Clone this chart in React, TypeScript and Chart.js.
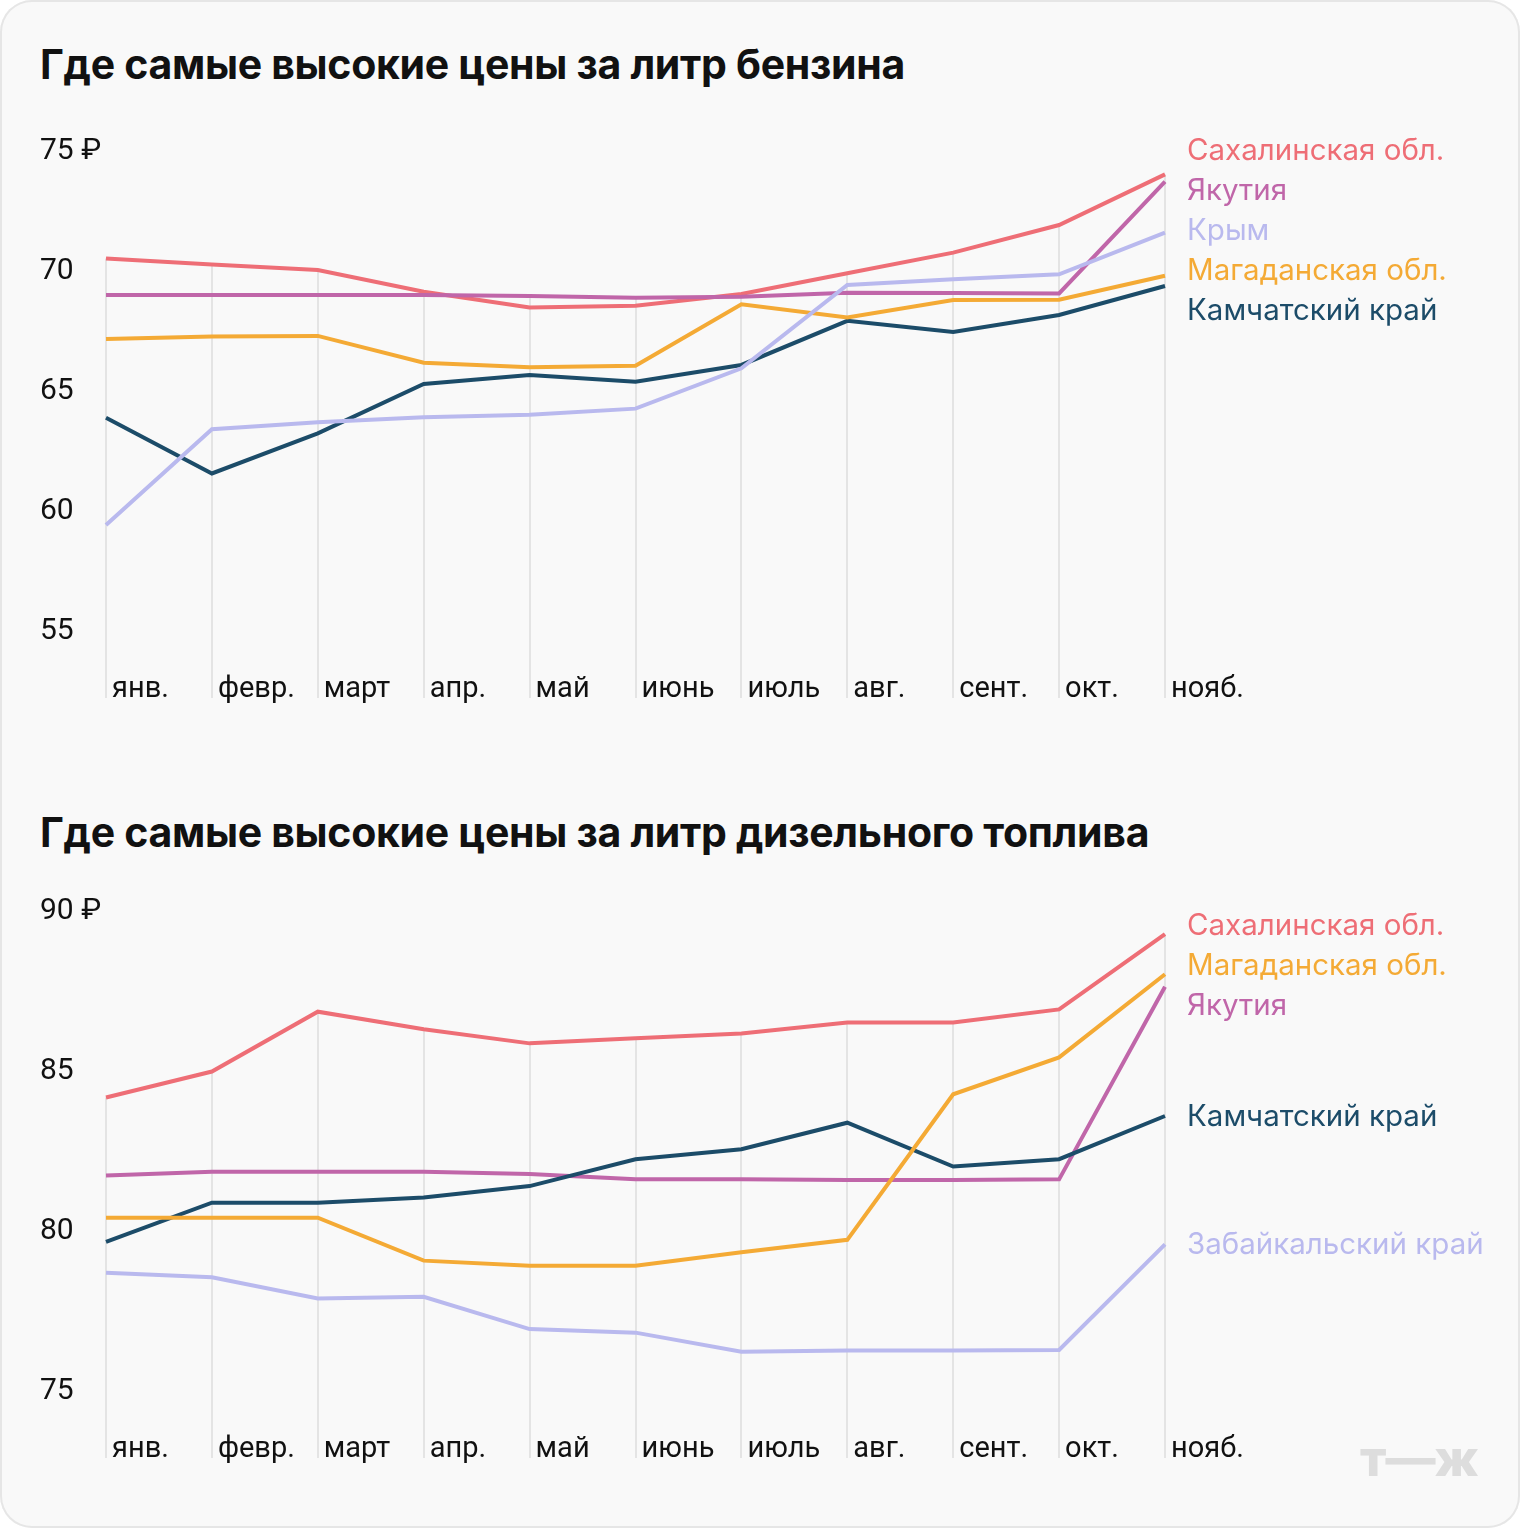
import React, { useEffect, useRef } from "react";
import { Chart, registerables } from "chart.js";

Chart.register(...registerables);

// ---------- data ----------
const months = ["янв.", "февр.", "март", "апр.", "май", "июнь", "июль", "авг.", "сент.", "окт.", "нояб."];

const petrolTitle = "Где самые высокие цены за литр бензина";
const dieselTitle = "Где самые высокие цены за литр дизельного топлива";

const petrolTicks = [55, 60, 65, 70, 75];
const dieselTicks = [75, 80, 85, 90];

const petrolSakhalin = [70.4, 70.15, 69.92, 69.01, 68.35, 68.43, 68.92, 69.78, 70.64, 71.79, 73.9];
const petrolYakutia = [68.87, 68.87, 68.87, 68.87, 68.83, 68.76, 68.8, 68.97, 68.96, 68.94, 73.6];
const petrolCrimea = [59.29, 63.28, 63.57, 63.78, 63.89, 64.14, 65.82, 69.29, 69.53, 69.74, 71.47];
const petrolMagadan = [67.04, 67.15, 67.17, 66.05, 65.86, 65.93, 68.49, 67.94, 68.67, 68.68, 69.68];
const petrolKamchatka = [63.76, 61.44, 63.11, 65.17, 65.54, 65.26, 65.96, 67.8, 67.33, 68.04, 69.25];

const dieselSakhalin = [84.08, 84.89, 86.76, 86.21, 85.77, 85.93, 86.08, 86.42, 86.42, 86.83, 89.18];
const dieselMagadan = [80.32, 80.32, 80.32, 78.98, 78.82, 78.82, 79.24, 79.63, 84.18, 85.33, 87.93];
const dieselYakutia = [81.64, 81.76, 81.76, 81.76, 81.69, 81.52, 81.52, 81.5, 81.5, 81.52, 87.54];
const dieselKamchatka = [79.57, 80.79, 80.79, 80.95, 81.31, 82.15, 82.46, 83.29, 81.92, 82.15, 83.5];
const dieselZabaikalsky = [78.6, 78.46, 77.8, 77.85, 76.84, 76.73, 76.13, 76.17, 76.17, 76.19, 79.49];

// ---------- styles ----------
const C_RED = "#ee6e76";
const C_PURPLE = "#c066a9";
const C_LAV = "#b9b9ee";
const C_ORANGE = "#f4aa35";
const C_DARK = "#1c4c69";

const petrolSeries = [
  { label: "Крым", data: petrolCrimea, color: C_LAV },
  { label: "Магаданская обл.", data: petrolMagadan, color: C_ORANGE },
  { label: "Камчатский край", data: petrolKamchatka, color: C_DARK },
  { label: "Якутия", data: petrolYakutia, color: C_PURPLE },
  { label: "Сахалинская обл.", data: petrolSakhalin, color: C_RED },
];

const dieselSeries = [
  { label: "Забайкальский край", data: dieselZabaikalsky, color: C_LAV },
  { label: "Магаданская обл.", data: dieselMagadan, color: C_ORANGE },
  { label: "Камчатский край", data: dieselKamchatka, color: C_DARK },
  { label: "Якутия", data: dieselYakutia, color: C_PURPLE },
  { label: "Сахалинская обл.", data: dieselSakhalin, color: C_RED },
];

const decorPlugin = {
  id: "decor",
  beforeDatasetsDraw(chart: any) {
    const { ctx, chartArea } = chart;
    const xs = chart.scales.x;
    const ys = chart.scales.y;
    const labels = chart.data.labels as string[];
    ctx.save();
    ctx.strokeStyle = "#e4e4e4";
    ctx.lineWidth = 2;
    labels.forEach((_: string, i: number) => {
      let top = chartArea.bottom;
      chart.data.datasets.forEach((ds: any) => {
        const p = ys.getPixelForValue(ds.data[i]);
        if (p < top) top = p;
      });
      const x = Math.round(xs.getPixelForValue(i));
      ctx.beginPath();
      ctx.moveTo(x, top);
      ctx.lineTo(x, chartArea.bottom);
      ctx.stroke();
    });
    ctx.fillStyle = "#111";
    ctx.font = "29px Roboto";
    ctx.textAlign = "left";
    ctx.textBaseline = "middle";
    labels.forEach((m: string, i: number) => {
      const x = xs.getPixelForValue(i);
      ctx.fillText(m, x + 6, chartArea.bottom - 8);
    });
    ctx.restore();
  },
  afterDatasetsDraw(chart: any) {
    const { ctx } = chart;
    const xs = chart.scales.x;
    const ys = chart.scales.y;
    const n = chart.data.labels.length;
    const spacing = 40;
    const items = chart.data.datasets.map((ds: any) => ({
      text: ds.label,
      color: ds.borderColor,
      target: ys.getPixelForValue(ds.data[n - 1]),
    }));
    items.sort((a: any, b: any) => a.target - b.target);
    let clusters: any[] = items.map((it: any) => ({ items: [it] }));
    const place = (c: any) => {
      const mean = c.items.reduce((s: number, it: any) => s + it.target, 0) / c.items.length;
      c.start = mean - ((c.items.length - 1) * spacing) / 2;
      c.end = c.start + (c.items.length - 1) * spacing;
    };
    clusters.forEach(place);
    let merged = true;
    while (merged) {
      merged = false;
      for (let i = 0; i < clusters.length - 1; i++) {
        if (clusters[i].end + spacing > clusters[i + 1].start + 0.5) {
          const c = { items: [...clusters[i].items, ...clusters[i + 1].items] };
          place(c);
          clusters.splice(i, 2, c);
          merged = true;
          break;
        }
      }
    }
    const x = xs.getPixelForValue(n - 1) + 22;
    ctx.save();
    ctx.font = "29.5px Inter";
    ctx.textAlign = "left";
    ctx.textBaseline = "middle";
    clusters.forEach((c: any) => {
      c.items.forEach((it: any, k: number) => {
        ctx.fillStyle = it.color;
        ctx.fillText(it.text, x, c.start + k * spacing + 1);
      });
    });
    ctx.restore();
  },
};

function LineChart(props: { series: any[]; ticks: number[]; min: number; max: number }) {
  const ref = useRef<HTMLCanvasElement | null>(null);
  useEffect(() => {
    if (!ref.current) return;
    const topTick = props.ticks[props.ticks.length - 1];
    const chart = new Chart(ref.current, {
      type: "line",
      data: {
        labels: months,
        datasets: props.series.map((s) => ({
          label: s.label,
          data: s.data,
          borderColor: s.color,
          backgroundColor: s.color,
          borderWidth: 4,
          pointRadius: 0,
          tension: 0,
          fill: false,
        })),
      },
      options: {
        animation: false,
        responsive: true,
        maintainAspectRatio: false,
        layout: { padding: { left: 40, right: 355, top: 48, bottom: 22 } },
        plugins: { legend: { display: false }, tooltip: { enabled: false } },
        scales: {
          x: { type: "category", display: false },
          y: {
            min: props.min,
            max: props.max,
            position: "left",
            grid: { display: false },
            border: { display: false },
            ticks: {
              color: "#111",
              font: { family: "Roboto", size: 30 },
              crossAlign: "far",
              padding: 0,
              labelOffset: 3,
              callback: (v: any) => (v === topTick ? `${v} ₽` : `${v}`),
            },
            afterBuildTicks: (s: any) => {
              s.ticks = props.ticks.map((v) => ({ value: v }));
            },
            afterFit: (s: any) => {
              s.width = 66;
            },
          },
        },
      } as any,
      plugins: [decorPlugin],
    });
    return () => chart.destroy();
  }, []);
  return <canvas ref={ref} />;
}

const titleStyle: React.CSSProperties = {
  position: "absolute",
  left: 40,
  margin: 0,
  fontFamily: "Inter, 'Noto Sans', sans-serif",
  fontWeight: 700,
  fontSize: 41,
  lineHeight: "46px",
  color: "#111",
  letterSpacing: "-0.3px",
  whiteSpace: "nowrap",
};

export default function App() {
  return (
    <div
      style={{
        position: "relative",
        width: 1520,
        height: 1528,
        background: "#f9f9f9",
        borderRadius: 32,
        boxShadow: "inset 0 0 0 2px #e6e6e6",
        overflow: "hidden",
      }}
    >
      <style>{`body{margin:0;}`}</style>
      <div style={{ ...titleStyle, top: 41 }}>{petrolTitle}</div>
      <div style={{ position: "absolute", left: 0, top: 100, width: 1520, height: 620 }}>
        <LineChart series={petrolSeries} ticks={petrolTicks} min={55 - 70 / 24} max={75} />
      </div>
      <div style={{ ...titleStyle, top: 809 }}>{dieselTitle}</div>
      <div style={{ position: "absolute", left: 0, top: 860, width: 1520, height: 620 }}>
        <LineChart series={dieselSeries} ticks={dieselTicks} min={75 - 70 / 32} max={90} />
      </div>
      <div
        style={{
          position: "absolute",
          left: 1360,
          top: 1430,
          fontFamily: "Inter, sans-serif",
          fontWeight: 800,
          fontSize: 50,
          lineHeight: "56px",
          color: "#dddddd",
          letterSpacing: "-1px",
        }}
      >
        т—ж
      </div>
    </div>
  );
}
